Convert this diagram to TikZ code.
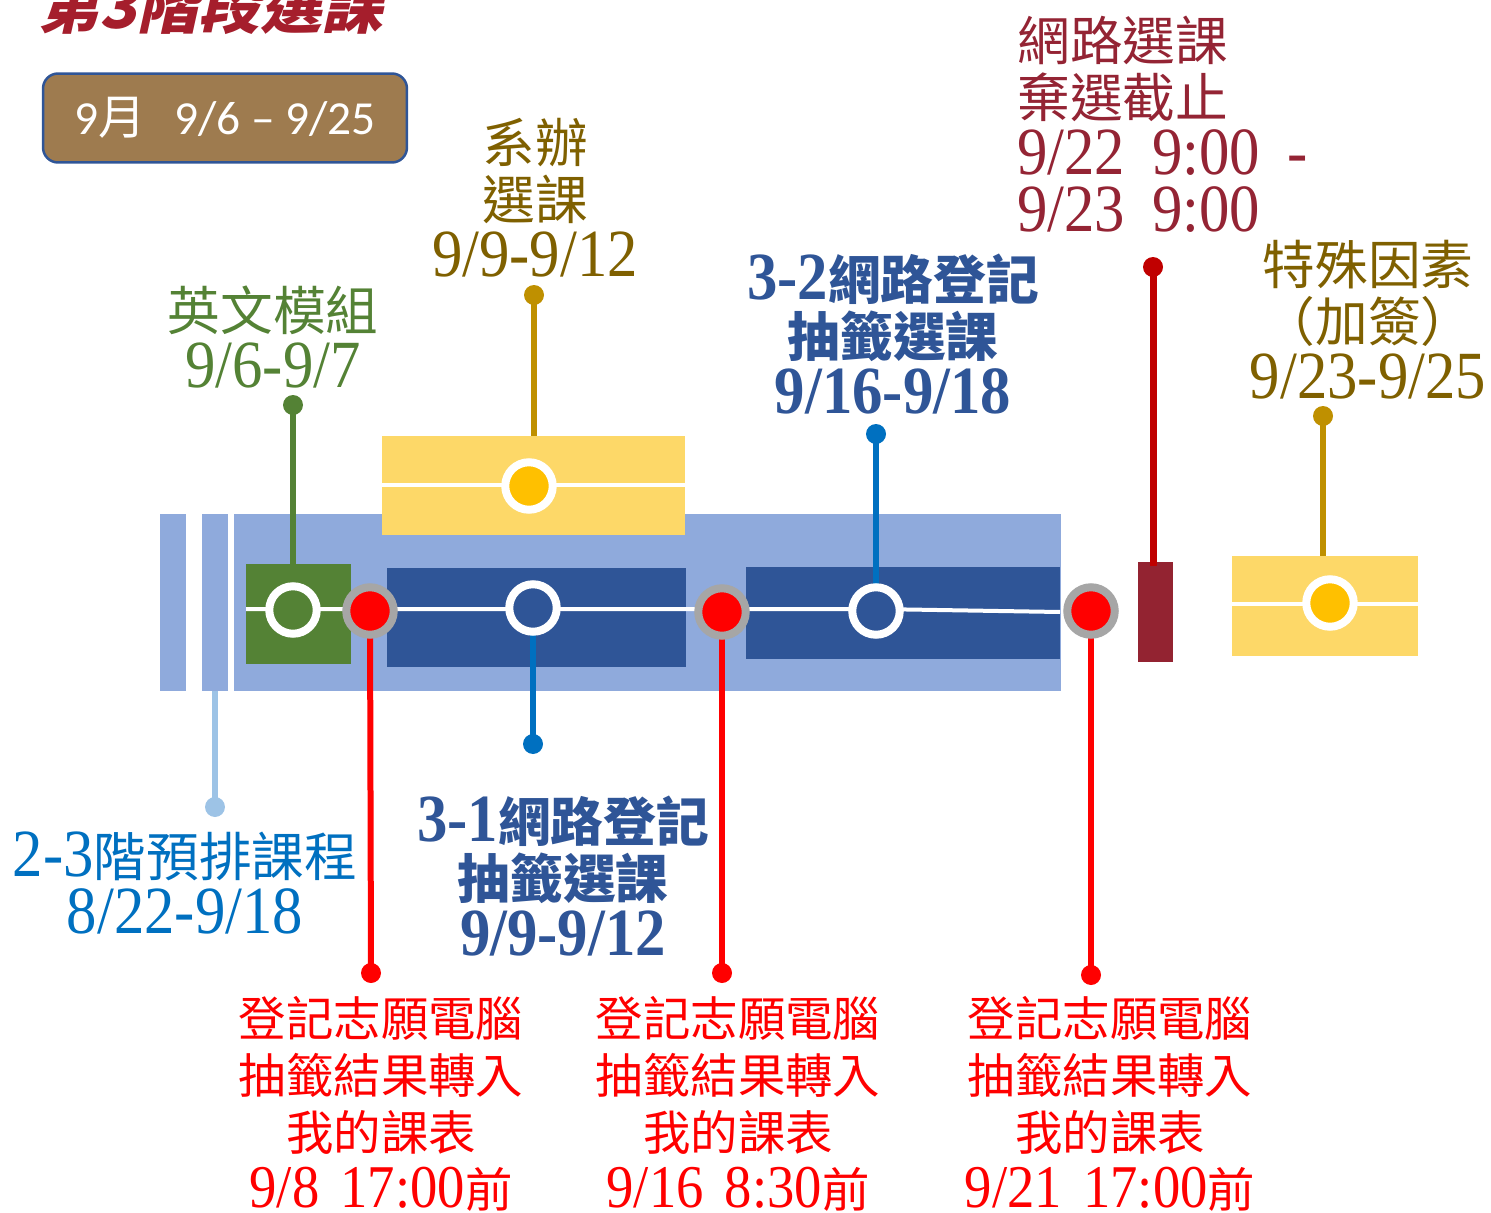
\documentclass[tikz,border=0pt]{standalone}
\usepackage{fontspec}
\setmainfont{Noto Sans CJK TC}
\newfontfamily\dg{Liberation Serif}[Scale=1.28,FakeStretch=0.9]
\newfontfamily\ttlfont{Noto Sans CJK TC}[FakeSlant=0.22]
\newfontfamily\calfont{Carlito}
\newcommand\D[1]{{\dg #1}}
\definecolor{cLBar}{HTML}{8FAADC}
\definecolor{cYel}{HTML}{FDD868}
\definecolor{cGold}{HTML}{FFC000}
\definecolor{cGreen}{HTML}{548235}
\definecolor{cDBlue}{HTML}{2F5597}
\definecolor{cGray}{HTML}{A6A6A6}
\definecolor{cRed}{HTML}{FF0000}
\definecolor{cDRbox}{HTML}{932331}
\definecolor{cDRline}{HTML}{C00000}
\definecolor{cGoldLine}{HTML}{BF9000}
\definecolor{cBlue}{HTML}{0070C0}
\definecolor{cLBlue}{HTML}{9DC3E6}
\definecolor{cOlive}{HTML}{7F6000}
\definecolor{cDRtext}{HTML}{942434}
\definecolor{cTitle}{HTML}{A51E2C}
\definecolor{cBrown}{HTML}{9E7B4F}
\tikzset{
  boxr/.style={inner sep=0pt, outer sep=0pt, anchor=north west},
  ring/.style={circle, inner sep=0pt, outer sep=0pt, minimum size=0.95cm, draw=white, line width=0.16cm},
  redring/.style={ring, draw=cGray, fill=cRed},
  pindot/.style={circle, inner sep=0pt, outer sep=0pt, minimum size=0.4cm},
  pin/.style={line width=0.11cm},
  wline/.style={white, line width=0.08cm},
  lab/.style={align=center, inner sep=0pt, font=\fontsize{30}{32.5}\selectfont},
  redlab/.style={align=center, inner sep=0pt, text=cRed, font=\fontsize{27}{32.5}\selectfont},
}
\begin{document}
\begin{tikzpicture}[x=0.02cm,y=-0.02cm]
\useasboundingbox (0,0) rectangle (1491,1213);
% title and month box
\node[anchor=base west, inner sep=0pt, text=cTitle, font=\ttlfont\bfseries\fontsize{35}{40}\selectfont] (title) at (38,29) {第3階段選課};
\node[rounded corners=0.3cm, fill=cBrown, draw=cDBlue, line width=0.05cm, minimum width=7.28cm, minimum height=1.78cm, inner sep=0pt, text=white, font=\calfont\fontsize{27}{30}\selectfont] (mbox) at (225,118) {9{\rmfamily 月}\hspace{0.6em}9/6 – 9/25};
% background bars
\node[boxr, fill=cLBar, minimum width=0.52cm, minimum height=3.54cm] (bar1) at (160,514) {};
\node[boxr, fill=cLBar, minimum width=0.52cm, minimum height=3.54cm] (bar2) at (202,514) {};
\node[boxr, fill=cLBar, minimum width=16.54cm, minimum height=3.54cm] (band) at (234,514) {};
% boxes
\node[boxr, fill=cYel, minimum width=6.06cm, minimum height=1.98cm] (ytop) at (382,436) {};
\node[boxr, fill=cGreen, minimum width=2.1cm, minimum height=2.0cm] (gbox) at (246,564) {};
\node[boxr, fill=cDBlue, minimum width=5.98cm, minimum height=1.98cm] (bbox1) at (387,568) {};
\node[boxr, fill=cDBlue, minimum width=6.28cm, minimum height=1.84cm] (bbox2) at (746,567) {};
\node[boxr, fill=cDRbox, minimum width=0.7cm, minimum height=2.0cm] (drbox) at (1138,562) {};
\node[boxr, fill=cYel, minimum width=3.72cm, minimum height=2.0cm] (yr) at (1232,556) {};
% white lines
\draw[wline] (382,485) -- (685,485);
\draw[wline] (246,609) -- (876,609) -- (1060,612);
\draw[wline] (1232,604) -- (1418,604);
% pin dots
\node[pindot, fill=cGreen] (pg) at (293,405) {};
\node[pindot, fill=cGoldLine] (py1) at (534,295) {};
\node[pindot, fill=cBlue] (pb2) at (876,434) {};
\node[pindot, fill=cDRline] (pdr) at (1153,267) {};
\node[pindot, fill=cGoldLine] (py2) at (1323,416) {};
\node[pindot, fill=cLBlue] (plb) at (215,807) {};
\node[pindot, fill=cBlue] (pb1) at (533,744) {};
\node[pindot, fill=cRed] (pr1) at (371,973) {};
\node[pindot, fill=cRed] (pr2) at (722,973) {};
\node[pindot, fill=cRed] (pr3) at (1091,975) {};
% circle positions
\coordinate (cgpos) at (293,610);
\coordinate (cy1pos) at (529,486);
\coordinate (cb1pos) at (533,608);
\coordinate (cb2pos) at (876,611);
\coordinate (cy2pos) at (1330,603);
\coordinate (r1pos) at (370,611);
\coordinate (r2pos) at (722,612);
\coordinate (r3pos) at (1091,611);
% connectors
\draw[pin, cGreen] (pg.center) -- (pg |- gbox.north);
\draw[pin, cGoldLine] (py1.center) -- (py1 |- ytop.north);
\draw[pin, cBlue] (pb2.center) -- (cb2pos);
\draw[pin, cDRline, line width=0.14cm] (pdr.center) -- ([yshift=-0.08cm]pdr |- drbox.north);
\draw[pin, cGoldLine] (py2.center) -- (py2 |- yr.north);
\draw[pin, cLBlue, line width=0.13cm] (plb.center) -- (plb |- bar2.south);
\draw[pin, cBlue] (pb1.center) -- (cb1pos);
\draw[pin, cRed, line width=0.12cm] (pr1.center) -- (r1pos);
\draw[pin, cRed, line width=0.12cm] (pr2.center) -- (r2pos);
\draw[pin, cRed, line width=0.12cm] (pr3.center) -- (r3pos);
% circles
\node[ring, fill=cGreen] (cg) at (cgpos) {};
\node[ring, fill=cGold] (cy1) at (cy1pos) {};
\node[ring, fill=cDBlue] (cb1) at (cb1pos) {};
\node[ring, fill=cDBlue] (cb2) at (cb2pos) {};
\node[ring, fill=cGold] (cy2) at (cy2pos) {};
\node[redring] (r1) at (r1pos) {};
\node[redring] (r2) at (r2pos) {};
\node[redring] (r3) at (r3pos) {};
% labels
\node[lab, text=cGreen] (t1) at (273,337) {英文模組\\\D{9/6-9/7}};
\node[lab, text=cOlive] (t2) at (535,198) {系辦\\選課\\\D{9/9-9/12}};
\node[lab, text=cDBlue, font=\bfseries\fontsize{30}{32.5}\selectfont] (t3) at (893,334) {\D{3-2}網路登記\\抽籤選課\\\D{9/16-9/18}};
\node[lab, text=cDRtext, align=left, anchor=west] (t4) at (1017,124) {網路選課\\棄選截止\\\D{9/22\hspace{0.4em}9:00\hspace{0.4em}-}\\\D{9/23\hspace{0.4em}9:00}};
\node[lab, text=cOlive] (t5) at (1368,320) {特殊因素\\（加簽）\\\D{9/23-9/25}};
\node[lab, text=cBlue] (t6) at (185,883) {\D{2-3}階預排課程\\\D{8/22-9/18}};
\node[lab, text=cDBlue, font=\bfseries\fontsize{30}{32.5}\selectfont] (t7) at (563,876) {\D{3-1}網路登記\\抽籤選課\\\D{9/9-9/12}};
\node[redlab] (t8) at (381,1104) {登記志願電腦\\抽籤結果轉入\\我的課表\\\D{9/8\hspace{0.35em}17:00}前};
\node[redlab] (t9) at (738,1104) {登記志願電腦\\抽籤結果轉入\\我的課表\\\D{9/16\hspace{0.35em}8:30}前};
\node[redlab] (t10) at (1110,1104) {登記志願電腦\\抽籤結果轉入\\我的課表\\\D{9/21\hspace{0.35em}17:00}前};
\end{tikzpicture}
\end{document}
